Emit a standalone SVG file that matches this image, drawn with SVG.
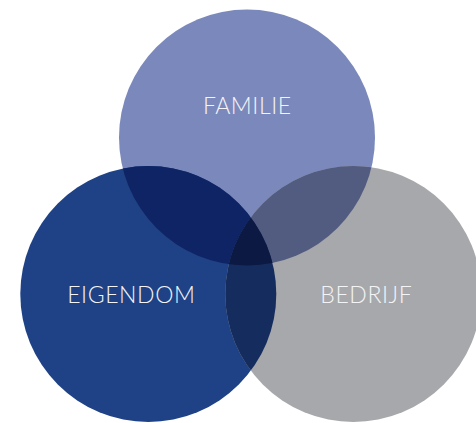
<svg xmlns="http://www.w3.org/2000/svg" width="476" height="423" viewBox="0 0 476 423">
<style>
.lbl{font-family:Lato,"Open Sans","Liberation Sans",sans-serif;font-weight:300;font-size:23px;fill:#F4F4F7;text-anchor:middle;letter-spacing:0.6px}
</style>
<defs>
<clipPath id="cTop"><circle cx="247" cy="137.5" r="128"/></clipPath>
<clipPath id="cLeft"><circle cx="148.3" cy="294" r="128"/></clipPath>
<clipPath id="cRight"><circle cx="353.3" cy="294" r="128"/></clipPath>
</defs>
<rect width="476" height="423" fill="#FFFFFF"/>
<g id="familie"><circle cx="247" cy="137.5" r="128" fill="#7B88BB"/></g>
<g id="eigendom"><circle cx="148.3" cy="294" r="128" fill="#1E4285"/></g>
<g id="bedrijf"><circle cx="353.3" cy="294" r="128" fill="#A7A8AB"/></g>
<g id="overlaps">
<g clip-path="url(#cTop)"><circle cx="148.3" cy="294" r="128" fill="#0F2464"/><circle cx="353.3" cy="294" r="128" fill="#525B80"/></g>
<g clip-path="url(#cLeft)"><circle cx="353.3" cy="294" r="128" fill="#142C5E"/></g>
<g clip-path="url(#cTop)"><g clip-path="url(#cLeft)"><circle cx="353.3" cy="294" r="128" fill="#0C1942"/></g></g>
</g>
<g id="labels">
<text class="lbl" x="247.3" y="114">FAMILIE</text>
<text class="lbl" x="131.3" y="302.5">EIGENDOM</text>
<text class="lbl" x="366.3" y="302.5">BEDRIJF</text>
</g>
</svg>
